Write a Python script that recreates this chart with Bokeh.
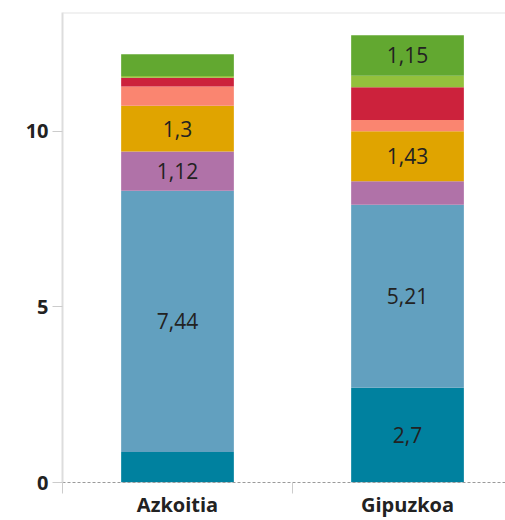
from bokeh.plotting import figure
from bokeh.models import ColumnDataSource, FixedTicker, Range1d, Span
from bokeh.core.properties import value
from bokeh.embed import file_html
from bokeh.resources import INLINE

categories = ["Azkoitia", "Gipuzkoa"]
x_pos = [0, 1]
seg_names = ["s1", "s2", "s3", "s4", "s5", "s6", "s7", "s8"]
s1 = [0.87, 2.70]   # dark teal
s2 = [7.44, 5.21]   # light blue
s3 = [1.12, 0.67]   # purple
s4 = [1.30, 1.43]   # amber
s5 = [0.55, 0.32]   # salmon
s6 = [0.25, 0.93]   # red
s7 = [0.05, 0.33]   # light green
s8 = [0.62, 1.15]   # green
series = [s1, s2, s3, s4, s5, s6, s7, s8]
colors = ["#00819F", "#62A0BF", "#B072A8", "#E0A400", "#FA8570", "#CC223C", "#93C13C", "#62A830"]
label_min = 1.0
y_ticks = [0, 5, 10]

data = {"x": x_pos}
for n, s in zip(seg_names, series):
    data[n] = s
source = ColumnDataSource(data)

p = figure(width=505, height=520, output_backend="svg", toolbar_location=None,
           x_range=Range1d(-0.5, 1.426), y_range=Range1d(0, 13.39),
           min_border_left=62, min_border_right=0, min_border_top=12, min_border_bottom=30)
p.outline_line_color = None
p.xgrid.visible = False
p.ygrid.visible = False

p.vbar_stack(seg_names, x="x", width=0.49, color=colors, line_color=None, source=source)

# labels
lx, ly, lt = [], [], []
for i, xv in enumerate(x_pos):
    base = 0.0
    for s in series:
        v = s[i]
        if v >= label_min:
            lx.append(xv)
            ly.append(base + v / 2)
            lt.append(("%g" % v).replace(".", ","))
        base += v
lsrc = ColumnDataSource(dict(x=lx, y=ly, t=lt))
p.text(x="x", y="y", text="t", source=lsrc, text_align="center", text_baseline="middle",
       text_font=value("Open Sans"), text_font_size="21px", text_color="#222222")

p.add_layout(Span(location=13.39, dimension="width", line_color="#e3e3e3", line_width=2))

xa = p.xaxis[0]
xa.ticker = FixedTicker(ticks=x_pos, minor_ticks=[-0.5, 0.5])
xa.major_label_overrides = {x: c for x, c in zip(x_pos, categories)}
xa.major_tick_line_color = None
xa.minor_tick_out = 11
xa.minor_tick_in = 0
xa.minor_tick_line_color = "#cccccc"
xa.axis_line_color = "#9a9a9a"
xa.axis_line_dash = "3 2"
xa.major_label_standoff = -3
xa.major_label_text_font = "Open Sans"
xa.major_label_text_font_style = "bold"
xa.major_label_text_font_size = "20px"
xa.major_label_text_color = "#222222"

ya = p.yaxis[0]
ya.ticker = FixedTicker(ticks=y_ticks)
ya.minor_tick_line_color = None
ya.major_tick_out = 10
ya.major_tick_in = 0
ya.major_tick_line_color = "#cccccc"
ya.axis_line_color = "#dddddd"
ya.axis_line_width = 2
ya.major_label_standoff = 4
ya.major_label_text_font = "Open Sans"
ya.major_label_text_font_style = "bold"
ya.major_label_text_font_size = "20px"
ya.major_label_text_color = "#222222"

open("out.html", "w").write(file_html(p, INLINE))
